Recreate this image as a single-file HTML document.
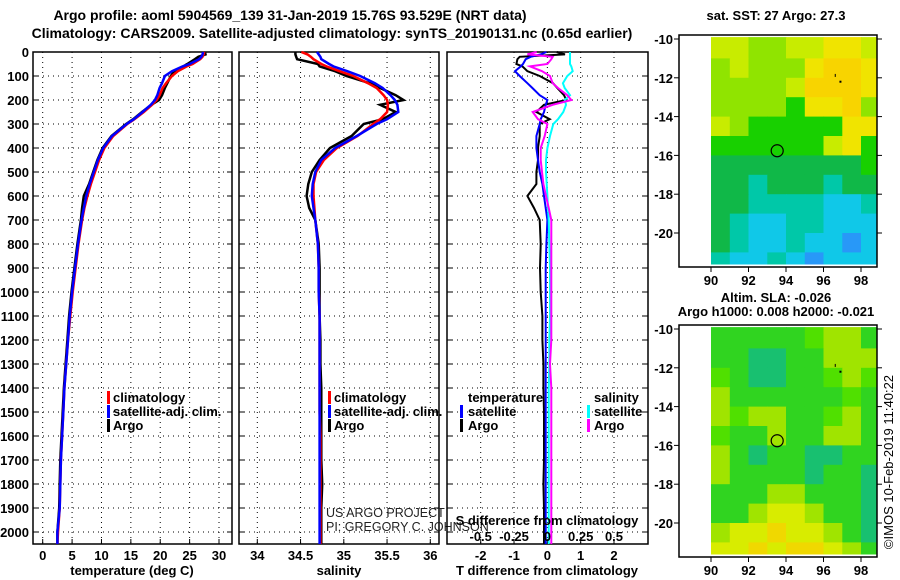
<!DOCTYPE html>
<html><head><meta charset="utf-8"><style>
html,body{margin:0;padding:0;background:#fff}
svg{display:block;font-family:"Liberation Sans",sans-serif}
.b{font-weight:bold;font-size:13px;fill:#000}
.t{font-weight:bold;font-size:14px;fill:#000}
.g{stroke:#000;stroke-width:1;stroke-dasharray:1 4;fill:none}
</style></head><body>
<svg id="s" width="900" height="580" viewBox="0 0 900 580" xmlns="http://www.w3.org/2000/svg">
<text class="t" x="290" y="20" text-anchor="middle">Argo profile: aoml 5904569_139 31-Jan-2019 15.76S 93.529E (NRT data)</text>
<text class="t" x="332" y="38" text-anchor="middle">Climatology: CARS2009. Satellite-adjusted climatology: synTS_20190131.nc (0.65d earlier)</text>
<text class="b" x="776" y="20" text-anchor="middle">sat. SST: 27 Argo: 27.3</text>
<text class="b" x="776" y="302" text-anchor="middle">Altim. SLA: -0.026</text>
<text class="b" x="776" y="316" text-anchor="middle">Argo h1000: 0.008 h2000: -0.021</text>
<text x="893" y="462" font-size="13" text-anchor="middle" transform="rotate(-90 893 462)">©IMOS 10-Feb-2019 11:40:22</text>
<g id="layer"></g>
</svg>
<script>
// depth levels (dbar)
const depths=[0,10,20,30,50,60,80,100,130,150,180,200,220,250,280,300,350,400,450,500,550,600,650,700,800,900,1000,1100,1200,1300,1400,1500,1600,1700,1800,1900,2000,2050];
const tempClim=[27.5,27.4,27.2,26.8,25.5,24.5,23.0,22.0,21.0,20.4,19.9,19.4,18.6,17.2,15.6,14.4,12.0,10.5,9.6,8.9,8.2,7.6,7.1,6.7,6.1,5.6,5.1,4.7,4.3,4.0,3.7,3.5,3.3,3.1,3.0,2.9,2.6,2.5];
const tempSat=[27.3,27.2,27.0,26.6,25.0,23.8,22.0,20.8,20.3,19.9,19.5,19.1,18.4,17.0,15.5,14.3,11.8,10.3,9.4,8.7,8.0,7.4,7.0,6.6,6.0,5.5,5.0,4.6,4.3,4.0,3.7,3.5,3.3,3.1,3.0,2.9,2.5,2.5];
const tempArgo=[27.6,27.7,26.5,25.9,24.6,23.9,22.4,21.8,21.2,20.8,20.3,19.8,18.5,16.9,15.4,14.2,11.7,10.2,9.3,8.6,7.9,7.0,6.7,6.5,5.9,5.4,4.9,4.5,4.2,3.9,3.6,3.4,3.2,3.0,2.9,2.8,2.5,2.5];
const salClim=[34.51,34.58,34.62,34.65,34.74,34.8,34.95,35.11,35.28,35.38,35.46,35.5,35.51,35.5,35.42,35.34,35.16,34.92,34.77,34.68,34.65,34.65,34.66,34.67,34.70,34.71,34.71,34.72,34.72,34.72,34.72,34.72,34.73,34.73,34.73,34.73,34.73,34.73];
const salSat=[34.69,34.71,34.73,34.74,34.83,34.88,35.04,35.19,35.36,35.45,35.54,35.59,35.62,35.63,35.5,35.38,35.15,34.9,34.74,34.67,34.64,34.63,34.65,34.67,34.70,34.71,34.71,34.72,34.72,34.72,34.72,34.72,34.72,34.72,34.72,34.72,34.72,34.72];
const salArgo=[34.44,34.44,34.45,34.46,34.7,34.72,34.9,35.03,35.3,35.42,35.6,35.69,35.42,35.6,35.45,35.23,35.09,34.84,34.72,34.63,34.59,34.57,34.6,34.67,34.71,34.72,34.72,34.72,34.73,34.73,34.74,34.74,34.74,34.74,34.75,34.74,34.74,34.74];
const tDiffSat=[-0.03,-0.2,-0.5,-0.65,-0.73,-0.8,-0.97,-0.83,-0.6,-0.45,-0.23,0,-0.05,-0.1,-0.2,-0.23,-0.33,-0.33,-0.28,-0.23,-0.15,-0.1,-0.05,0,-0.03,-0.05,-0.05,-0.05,-0.05,-0.05,-0.05,-0.05,-0.05,-0.05,-0.05,-0.05,-0.05,-0.05];
const tDiffArgo=[0.28,0.53,-0.83,-0.9,-0.93,-0.75,-0.6,-0.23,0.17,0.3,0.5,0.57,-0.1,-0.33,0.07,-0.23,-0.23,-0.28,-0.28,-0.33,-0.33,-0.6,-0.4,-0.23,-0.2,-0.22,-0.2,-0.15,-0.15,-0.12,-0.12,-0.1,-0.1,-0.1,-0.12,-0.1,-0.1,-0.1];
const sDiffSat=[0.17,0.17,0.17,0.17,0.17,0.18,0.19,0.15,0.117,0.13,0.17,0.13,0.14,0.12,0.08,0.045,0.02,0,-0.01,-0.01,-0.005,0,0.005,0.01,0.015,0.02,0.02,0.02,0.015,0.015,0.01,0.01,0.01,0.01,0.01,0.01,0.01,0.01];
const sDiffArgo=[-0.08,-0.15,0.04,0.03,0,-0.13,-0.04,0.02,0.04,0.08,0.15,0.18,0.04,-0.11,-0.07,0,-0.02,-0.05,-0.05,-0.04,-0.03,-0.01,0.01,0.03,0.03,0.03,0.03,0.03,0.03,0.02,0.03,0.03,0.03,0.03,0.03,0.03,0.03,0.03];
const depthTicks=[0,100,200,300,400,500,600,700,800,900,1000,1100,1200,1300,1400,1500,1600,1700,1800,1900,2000];
const tempTicks=[0,5,10,15,20,25,30];
const salTicks=[34,34.5,35,35.5,36];
const tdTicks=[-2,-1,0,1,2];
const sdTicks=[-0.5,-0.25,0,0.25,0.5];
const lonTicks=[90,92,94,96,98];
const latTicks=[-10,-12,-14,-16,-18,-20];
const sstColors={O:'#f8d400',Y:'#f0e400',y:'#c8ec00',G:'#90e400',g:'#18d000',d:'#10b848',t:'#00c8a8',c:'#10c8e8',b:'#2898f8'};
const sstGrid=["yyGGyyYYy","GyGGGYOOY","GGGGyOOOY","GGGGgYYOG","yGgggggYY","ggggggyYg","ddddddddg","ddtdddtdd","ddttttcct","dtccttccc","dtcctccbc","tcctcbccc"];
const slaColors={Y:'#d8ec00',O:'#f0d800',G:'#a0e400',g:'#50e000',m:'#30d420',t:'#18c070'};
const slaGrid=["mmmmmgGGm","mmttmmGGG","gmttmmgGg","Gmmmmmmgm","GgGGmmgGm","gmmGmmGGm","Gmtmmttmm","Gmmmmtmmt","mmmGGmmmt","mmGYYGmmt","GYYOYYGmt","YYOYOOYGm"];
const floatLon=93.53, floatLat=-15.76;

const NS='http://www.w3.org/2000/svg';
const L=document.getElementById('layer');
function mk(tag,attrs,parent){const e=document.createElementNS(NS,tag);for(const k in attrs)e.setAttribute(k,attrs[k]);(parent||L).appendChild(e);return e;}
const Y0=52,Y1=544;
const yD=d=>Y0+(d/2050)*(Y1-Y0);
function lin(d0,d1,r0,r1){return v=>r0+(v-d0)/(d1-d0)*(r1-r0);}
const xT=lin(0,30,42.7,219);
const xS=lin(34,36,257.3,430.3);
const xTD=lin(-2,2,480.7,614);
const xSD=v=>xTD(v*4);

function panel(name,x0,x1,xs,ticks,fmt,labelY){
  const g=mk('g',{});
  
  
  ticks.forEach(t=>{const l=mk('line',{x1:xs(t),x2:xs(t),y1:Y0,y2:Y1,class:'g'},g);
    });
  depthTicks.forEach(d=>{const l=mk('line',{x1:x0,x2:x1,y1:yD(d),y2:yD(d),class:'g'},g);
    
    mk('line',{x1:x0,x2:x0+5,y1:yD(d),y2:yD(d),stroke:'#000'},g);mk('line',{x1:x1-5,x2:x1,y1:yD(d),y2:yD(d),stroke:'#000'},g);});
  if(labelY!==null) ticks.forEach(t=>{const tx=mk('text',{x:xs(t),y:labelY,class:'b','text-anchor':'middle'},g);tx.textContent=fmt(t);
    
    mk('line',{x1:xs(t),x2:xs(t),y1:Y1,y2:Y1-5,stroke:'#000'},g);});
  const r=mk('rect',{x:x0,y:Y0,width:x1-x0,height:Y1-Y0,fill:'none',stroke:'#000','stroke-width':1.5},g);
  
  return g;
}
function line(g,vals,xs,color,name,w){
  const p=mk('polyline',{points:vals.map((v,i)=>xs(v).toFixed(1)+','+yD(depths[i]).toFixed(1)).join(' '),fill:'none',stroke:color,'stroke-width':w||2.5},g);
  
}
function txt(g,x,y,s,cls,anchor,name,extra){const t=mk('text',Object.assign({x:x,y:y,class:cls||'b','text-anchor':anchor||'start'},extra||{}),g);t.textContent=s;
  return t;}
function legMark(g,x,y,c){mk('rect',{x:x,y:y-11,width:3,height:13,fill:c},g);}

// panel 1
const p1=panel('temperature-panel',33,232,xT,tempTicks,t=>String(t),560);
depthTicks.forEach(d=>{txt(p1,29,yD(d)+5,String(d),'b','end','y-tick-label');});
line(p1,tempArgo,xT,'#000','temp-argo-line');
line(p1,tempClim,xT,'#f00','temp-climatology-line');
line(p1,tempSat,xT,'#00f','temp-satellite-line');
txt(p1,132,575,'temperature (deg C)','b','middle','x-axis-title');
const lg1=mk('g',{},p1);
legMark(lg1,107,402,'#f00');txt(lg1,113,402,'climatology','b','start','legend-entry');
legMark(lg1,107,416,'#00f');txt(lg1,113,416,'satellite-adj. clim.','b','start','legend-entry');
legMark(lg1,107,430,'#000');txt(lg1,113,430,'Argo','b','start','legend-entry');

// panel 2
const p2=panel('salinity-panel',239,439,xS,salTicks,t=>String(t),560);
line(p2,salArgo,xS,'#000','salinity-argo-line');
line(p2,salClim,xS,'#f00','salinity-climatology-line');
line(p2,salSat,xS,'#00f','salinity-satellite-line');
txt(p2,339,575,'salinity','b','middle','x-axis-title');
const lg2=mk('g',{},p2);
legMark(lg2,328,402,'#f00');txt(lg2,334,402,'climatology','b','start','legend-entry');
legMark(lg2,328,416,'#00f');txt(lg2,334,416,'satellite-adj. clim.','b','start','legend-entry');
legMark(lg2,328,430,'#000');txt(lg2,334,430,'Argo','b','start','legend-entry');
txt(p2,326,517,'US ARGO PROJECT','b','start','project-credit',{style:'font-weight:normal;font-size:12.5px;fill:#222'});
txt(p2,326,531,'PI: GREGORY C. JOHNSON','b','start','pi-credit',{style:'font-weight:normal;font-size:12.5px;fill:#222'});

// panel 3
const p3=panel('difference-panel',447,648,xTD,tdTicks,t=>String(t),560);
line(p3,tDiffArgo,xTD,'#000','t-diff-argo-line',2);
line(p3,tDiffSat,xTD,'#00f','t-diff-satellite-line',2);
line(p3,sDiffSat,xSD,'#0ff','s-diff-satellite-line',2);
line(p3,sDiffArgo,xSD,'#f0f','s-diff-argo-line',2);
sdTicks.forEach(t=>{txt(p3,xSD(t),541,String(t),'b','middle','s-tick-label');});
txt(p3,547,525,'S difference from climatology','b','middle','s-axis-title');
txt(p3,547,575,'T difference from climatology','b','middle','x-axis-title');
const lg3=mk('g',{},p3);
txt(lg3,468,402,'temperature','b','start','legend-header');
legMark(lg3,460,416,'#00f');txt(lg3,468,416,'satellite','b','start','legend-entry');
legMark(lg3,460,430,'#000');txt(lg3,468,430,'Argo','b','start','legend-entry');
txt(lg3,594,402,'salinity','b','start','legend-header');
legMark(lg3,587,416,'#0ff');txt(lg3,594,416,'satellite','b','start','legend-entry');
legMark(lg3,587,430,'#f0f');txt(lg3,594,430,'Argo','b','start','legend-entry');

// maps
function map(name,fy0,latY10,grid,colors){
  const g=mk('g',{});
  
  const xl=lin(90,98,711,861), yl=lin(-10,-20,latY10,latY10+194);
  const top=yl(-9.9), bot=yl(-21.6), right=877;
  grid.forEach((row,r)=>{[...row].forEach((ch,c)=>{
    const x=xl(90+c), y=Math.max(top,yl(-10-r+ (r===0?0.1:0)));
    const x2=Math.min(right,xl(91+c)), y2=Math.min(bot,yl(-11-r));
    const cell=mk('rect',{x:x.toFixed(1),y:y.toFixed(1),width:(x2-x+0.5).toFixed(1),height:(y2-y+0.5).toFixed(1),fill:colors[ch]},g);
    
  });});
  const f=mk('rect',{x:679,y:fy0,width:198,height:232,fill:'none',stroke:'#000','stroke-width':1.5},g);
  
  lonTicks.forEach(t=>{mk('line',{x1:xl(t),x2:xl(t),y1:fy0+232,y2:fy0+237,stroke:'#000'},g);
    txt(g,xl(t),fy0+250,String(t),'b','middle','lon-tick-label');});
  latTicks.forEach(t=>{mk('line',{x1:674,x2:679,y1:yl(t),y2:yl(t),stroke:'#000'},g);
    mk('line',{x1:877,x2:882,y1:yl(t),y2:yl(t),stroke:'#000'},g);
    txt(g,673,yl(t)+5,String(t),'b','end','lat-tick-label');});
  const c=mk('circle',{cx:xl(floatLon),cy:yl(floatLat),r:6,fill:'none',stroke:'#000','stroke-width':1.2},g);
  
  mk('rect',{x:xl(96.6),y:yl(-11.8),width:1,height:3,fill:'#000'},g);
  mk('rect',{x:xl(96.85),y:yl(-12.15),width:2,height:2,fill:'#000'},g);
}
map('sst-map',35,39,sstGrid,sstColors);
map('sla-map',325,329,slaGrid,slaColors);
</script>
</body></html>
